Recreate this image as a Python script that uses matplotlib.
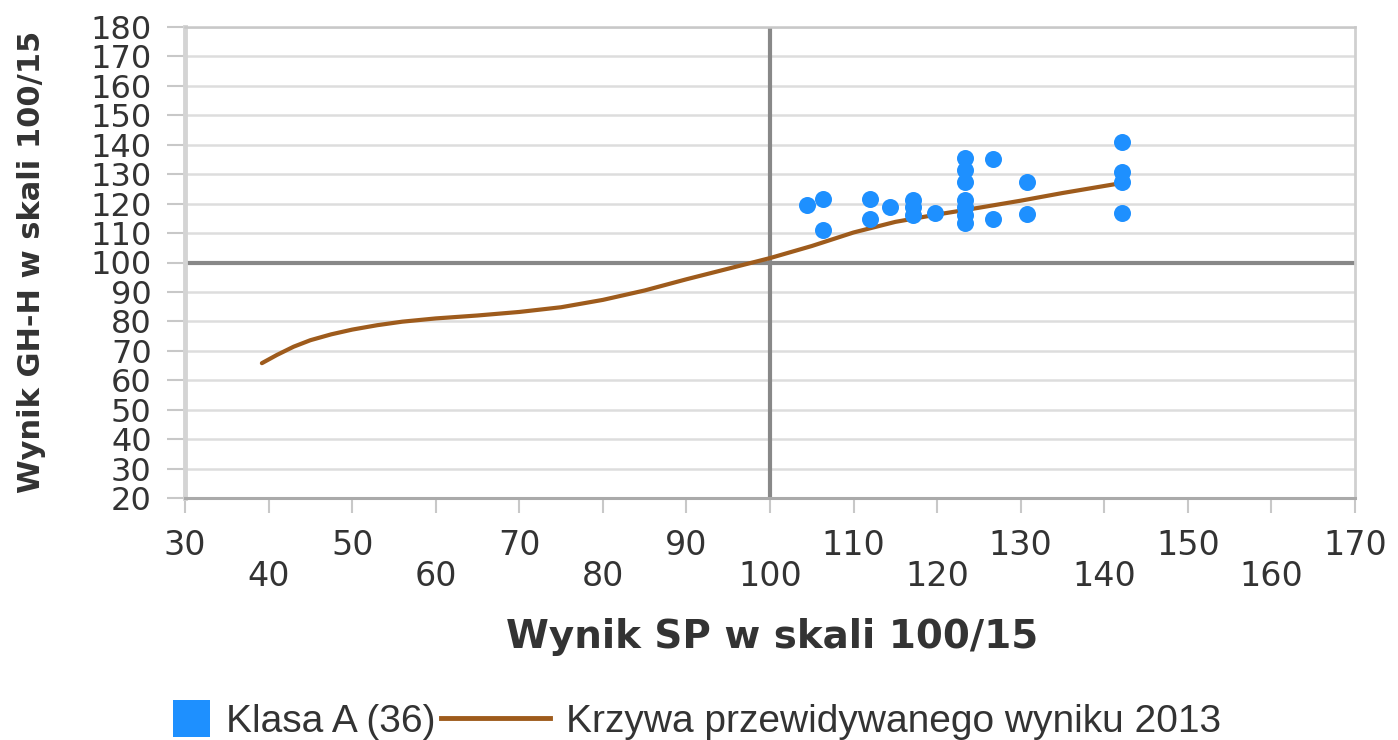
"""Scatter of class results vs. predicted-score curve (100/15 scale)."""
import matplotlib
matplotlib.use("Agg")
import matplotlib.pyplot as plt
from matplotlib.lines import Line2D
from matplotlib.patches import Patch, Rectangle
from matplotlib.legend_handler import HandlerPatch

# --- data --------------------------------------------------------------
sp_scores = [104.4, 106.3, 106.3, 112.0, 112.0, 114.3, 117.1, 117.1, 117.1,
             119.7, 123.3, 123.3, 123.3, 123.3, 123.3, 123.3, 123.3,
             126.7, 126.7, 130.8, 130.8, 142.1, 142.1, 142.1, 142.1]
gh_scores = [119.5, 121.5, 111.0, 121.5, 114.7, 119.0, 121.2, 119.0, 116.1,
             116.7, 135.4, 131.4, 127.4, 121.2, 119.0, 116.1, 113.3,
             135.0, 114.7, 127.4, 116.5, 141.0, 130.8, 127.4, 116.7]

curve_x = [39.2, 41.0, 43.0, 45.0, 47.5, 50.0, 53.0, 56.0, 60.0, 65.0, 70.0,
           75.0, 80.0, 85.0, 90.0, 95.0, 100.0, 105.0, 110.0, 115.0, 120.0,
           125.0, 130.0, 135.0, 142.1]
curve_y = [65.8, 68.6, 71.4, 73.6, 75.6, 77.2, 78.7, 79.9, 81.0, 82.0, 83.2,
           84.8, 87.3, 90.5, 94.3, 97.9, 101.5, 105.6, 110.2, 113.8, 116.3,
           118.6, 121.0, 123.6, 127.0]

x_ticks = list(range(30, 171, 10))
y_ticks = list(range(20, 181, 10))

scatter_label = "Klasa A (36)"
curve_label = "Krzywa przewidywanego wyniku 2013"
x_title = "Wynik SP w skali 100/15"
y_title = "Wynik GH-H w skali 100/15"

BLUE = "#1E90FF"
BROWN = "#9E5B1C"
TEXT = "#333333"


def square_at_right(legend, orig_handle, xdescent, ydescent, width, height, fontsize):
    # small square swatch pushed to the right end of the handle box
    side = 0.95 * fontsize
    return Rectangle((width - xdescent - side, -ydescent + (height - side) / 2),
                     side, side)


fig = plt.figure(figsize=(13.98, 7.40), dpi=100)
ax = fig.add_axes([185 / 1398, 1 - 498 / 740, (1355 - 185) / 1398, (498 - 27) / 740])

ax.set_xlim(30, 170)
ax.set_ylim(20, 180)
ax.set_yticks(y_ticks)
ax.grid(axis="y", color="#DDDDDD", lw=1.8, zorder=0)
ax.set_axisbelow(True)

ax.axvline(100, color="#888888", lw=3.0, zorder=1)
ax.axhline(100, color="#888888", lw=3.0, zorder=1)

ax.plot(curve_x, curve_y, color=BROWN, lw=3.0, zorder=3,
        solid_joinstyle="round", solid_capstyle="round")
ax.scatter(sp_scores, gh_scores, s=150, color=BLUE, lw=0, zorder=4)

# staggered x tick labels: odd decades on the first row, even on the second
ax.set_xticks(x_ticks)
ax.set_xticklabels([str(v) if (v // 10) % 2 == 1 else "\n" + str(v) for v in x_ticks])
for t in ax.get_xticklabels():
    t.set_linespacing(0.95)

ax.tick_params(axis="x", length=11, width=1.5, color="#C8C8C8", pad=11,
               labelsize=24, labelcolor=TEXT)
ax.tick_params(axis="y", length=13, width=1.5, color="#C8C8C8", pad=11,
               labelsize=23, labelcolor=TEXT)

ax.spines["top"].set_color("#C8C8C8")
ax.spines["top"].set_linewidth(1.8)
ax.spines["left"].set_color("#D4D4D4")
ax.spines["left"].set_linewidth(3.5)
ax.spines["right"].set_color("#D0D0D0")
ax.spines["right"].set_linewidth(2.0)
ax.spines["bottom"].set_color("#AAAAAA")
ax.spines["bottom"].set_linewidth(2.2)

fig.text(772 / 1398, 1 - 637 / 740, x_title, ha="center", va="center",
         fontsize=28, fontweight="bold", color=TEXT)
fig.text(32 / 1398, 1 - 262 / 740, y_title, ha="center", va="center",
         rotation=90, fontsize=22, fontweight="bold", color=TEXT)

sq_handle = Patch(facecolor=BLUE, edgecolor="none")
line_handle = Line2D([], [], color=BROWN, lw=3.5)
fig.legend([sq_handle, line_handle], [scatter_label, curve_label], loc="center",
           bbox_to_anchor=(661 / 1398, 1 - 722 / 740), ncol=2, frameon=False,
           prop={"family": ["Liberation Sans", "DejaVu Sans"], "size": 28},
           handlelength=2.8, handletextpad=0.4, columnspacing=0.15,
           labelcolor=TEXT,
           handler_map={Patch: HandlerPatch(patch_func=square_at_right)})

fig.savefig("out.png", dpi=100)
